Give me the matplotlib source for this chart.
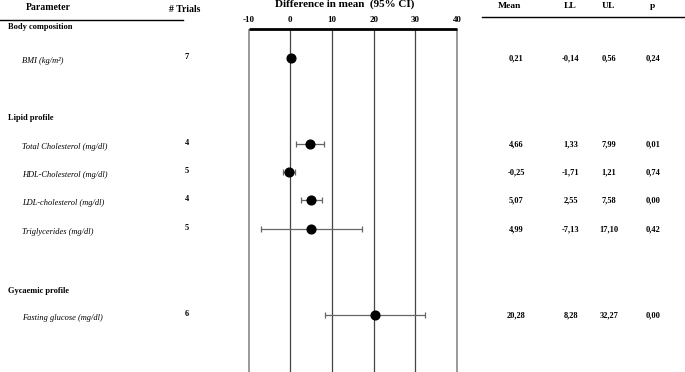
import matplotlib
matplotlib.use("Agg")
import matplotlib.pyplot as plt

# ---- data ----
groups = ["Body composition", "Lipid profile", "Gycaemic profile"]
parameters = ["BMI (kg/m²)", "Total Cholesterol (mg/dl)", "HDL-Cholesterol (mg/dl)",
              "LDL-cholesterol (mg/dl)", "Triglycerides (mg/dl)", "Fasting glucose (mg/dl)"]
trials = [7, 4, 5, 4, 5, 6]
means = [0.21, 4.66, -0.25, 5.07, 4.99, 20.28]
lower = [-0.14, 1.33, -1.71, 2.55, -7.13, 8.28]
upper = [0.56, 7.99, 1.21, 7.58, 17.10, 32.27]
pvals = [0.24, 0.01, 0.74, 0.00, 0.42, 0.00]
xticks = [-10, 0, 10, 20, 30, 40]

# ---- layout (pixel rows) ----
W, H = 685, 372
group_y = [27, 118, 291]
row_y = [58, 144, 172, 200, 229, 315]

def fmt(v):
    return f"{v:.2f}".replace(".", ",")

plt.rcParams['font.family'] = ['Liberation Serif', 'DejaVu Serif']
fig = plt.figure(figsize=(W / 100, H / 100), dpi=100)

# overlay axes for table text
tx = fig.add_axes([0, 0, 1, 1])
tx.set_xlim(0, W)
tx.set_ylim(H, 0)
tx.axis("off")

# forest axes
x0, x1 = 248.7, 457.0
ax = fig.add_axes([x0 / W, 0, (x1 - x0) / W, 1])
ax.set_xlim(xticks[0], xticks[-1])
ax.set_ylim(H, 0)
ax.axis("off")

top = 29
for t in xticks:
    if t in (xticks[0], xticks[-1]):
        ax.vlines(t, top, H, color="#9a9a9a", lw=1.4, clip_on=False)
    else:
        ax.vlines(t, top, H, color="#444444", lw=0.9)
    ax.text(t, 19.5, str(t), ha="center", va="center", fontsize=6.5, fontweight="bold")
ax.hlines(top, xticks[0], xticks[-1], color="black", lw=2.0, clip_on=False)

for y, m, lo, hi in zip(row_y, means, lower, upper):
    ax.errorbar(m, y, xerr=[[m - lo], [hi - m]], fmt="o", color="black",
                ecolor="#666666", elinewidth=0.9, capsize=2, capthick=0.9,
                markersize=6.3, zorder=3)

tx.text(345, 4.5, "Difference in mean  (95% CI)", ha="center", va="center",
        fontsize=8, fontweight="bold")

# headers
fs = 6
tx.text(48, 7.5, "Parameter", ha="center", va="center", fontsize=7, fontweight="bold")
tx.text(185, 9.5, "# Trials", ha="center", va="center", fontsize=7, fontweight="bold")
tx.plot([0, 183], [20, 20], color="black", lw=1.0)
col_x = [516, 571, 609, 653]
for x, h in zip([509, 570, 608, 652], ["Mean", "LL", "UL", "p"]):
    tx.text(x, 6, h, ha="center", va="center", fontsize=6.8, fontweight="bold")
tx.plot([482, 685], [16.5, 16.5], color="black", lw=1.0)

for g, y in zip(groups, group_y):
    tx.text(8, y, g, ha="left", va="center", fontsize=fs, fontweight="bold")

for i, y in enumerate(row_y):
    tx.text(22, y + 3, parameters[i], ha="left", va="center", fontsize=fs, fontstyle="italic")
    tx.text(187, y - 1, str(trials[i]), ha="center", va="center", fontsize=fs, fontweight="bold")
    for x, v in zip(col_x, [means[i], lower[i], upper[i], pvals[i]]):
        tx.text(x, y, fmt(v), ha="center", va="center", fontsize=fs, fontweight="bold")

fig.savefig("out.png", dpi=100, facecolor="white")
